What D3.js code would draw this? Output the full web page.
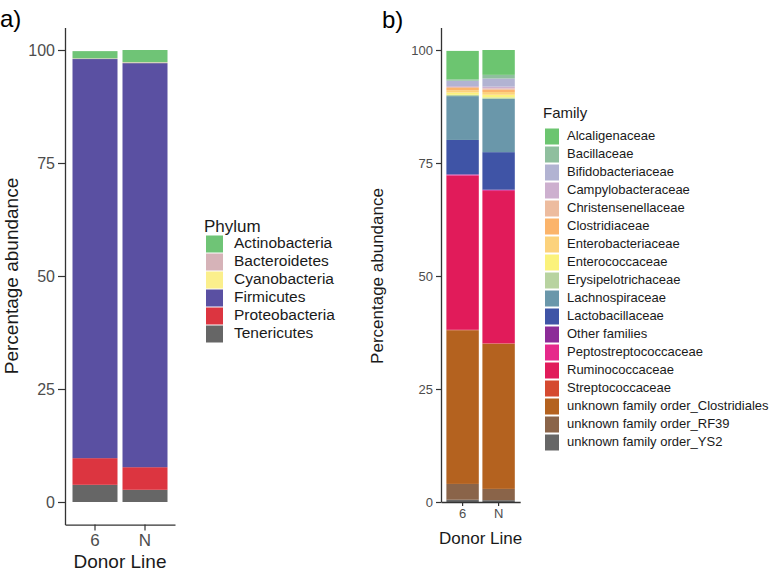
<!DOCTYPE html>
<html><head><meta charset="utf-8">
<script src="https://cdn.jsdelivr.net/npm/d3@7"></script>
<style>body{margin:0;background:#fff} svg{font-family:"Liberation Sans",Arial,Helvetica,sans-serif}</style>
</head><body><svg id="c" width="771" height="574"></svg>
<script>
// ---------- data ----------
const donors = ["6", "N"];
const yTicks = [0, 25, 50, 75, 100];

const phyla = ["Actinobacteria","Bacteroidetes","Cyanobacteria","Firmicutes","Proteobacteria","Tenericutes"];
const phylumColors = ["#6fc476","#d6b3b8","#fbef8c","#5a50a2","#dc3540","#666666"];
const phylum6 = [1.6, 0.1, 0.05, 88.3, 5.9, 3.8];
const phylumN = [2.7, 0.1, 0.1, 89.4, 5.0, 2.7];

const families = ["Alcaligenaceae","Bacillaceae","Bifidobacteriaceae","Campylobacteraceae","Christensenellaceae",
  "Clostridiaceae","Enterobacteriaceae","Enterococcaceae","Erysipelotrichaceae","Lachnospiraceae",
  "Lactobacillaceae","Other families","Peptostreptococcaceae","Ruminococcaceae","Streptococcaceae",
  "unknown family order_Clostridiales","unknown family order_RF39","unknown family order_YS2"];
const familyColors = ["#6cc570","#8fbf9e","#b2b3d2","#cdb0cf","#edbc9f","#fbb46b","#fcd27c","#fbf27b",
  "#b8d3a0","#6a97aa","#3f54a6","#8c2c98","#e6298b","#e11b5a","#d54a30","#b4621f","#8a6449","#666666"];
const family6 = [6.3, 0.3, 1.2, 0.2, 0.2, 0.5, 0.5, 0.5, 0.3, 9.7, 7.6, 0.1, 0.2, 34.1, 0.1, 34.0, 3.5, 0.5];
const familyN = [5.5, 0.8, 1.8, 0.4, 0.3, 0.5, 0.6, 0.6, 0.3, 11.8, 8.3, 0.1, 0.2, 33.7, 0.1, 32.1, 2.5, 0.4];

// ---------- drawing ----------
const svg = d3.select("#c");

function rows(keys, vals6, valsN) {
  return donors.map((d, j) => {
    const o = {donor: d};
    keys.forEach((k, i) => o[k] = (j === 0 ? vals6 : valsN)[i]);
    return o;
  });
}

function panel(cfg) {
  const g = svg.append("g");
  const x = d3.scaleBand().domain(donors).range([cfg.x0, cfg.x1]).paddingInner(0.1).paddingOuter(0.15);
  const y = d3.scaleLinear().domain(cfg.yDomain).range([cfg.yBottom, cfg.yTop]);
  const color = d3.scaleOrdinal().domain(cfg.keys).range(cfg.colors);
  const data = rows(cfg.keys, cfg.v6, cfg.vN);
  const stack = d3.stack().keys(cfg.keys.slice().reverse());
  const series = stack(data);

  g.selectAll("g.s").data(series).join("g").attr("class", "s")
    .attr("fill", s => color(s.key))
    .selectAll("rect").data(s => s).join("rect")
    .attr("x", d => x(d.data.donor))
    .attr("width", x.bandwidth())
    .attr("y", d => y(d[1]))
    .attr("height", d => Math.max(0, y(d[0]) - y(d[1])));

  // y axis
  const ya = g.append("g").attr("transform", `translate(${cfg.x0},0)`)
    .call(d3.axisLeft(y).tickValues(yTicks).tickSize(cfg.tickLen).tickSizeOuter(0).tickPadding(cfg.tickPad));
  ya.select(".domain").attr("stroke", "#333").attr("stroke-width", 1.3);
  ya.selectAll(".tick line").attr("stroke", "#333").attr("stroke-width", 1.2);
  ya.selectAll(".tick text").attr("fill", "#4d4d4d").style("font-size", cfg.tickFont + "px")
    .style("font-family", "Liberation Sans, Arial, sans-serif");

  // x axis
  const xa = g.append("g").attr("transform", `translate(0,${cfg.yBottom})`)
    .call(d3.axisBottom(x).tickSize(cfg.tickLen - 1).tickSizeOuter(0).tickPadding(cfg.tickPad));
  xa.select(".domain").attr("stroke", "#333").attr("stroke-width", 1.3);
  xa.selectAll(".tick line").attr("stroke", "#333").attr("stroke-width", 1.2);
  xa.selectAll(".tick text").attr("fill", "#4d4d4d").style("font-size", cfg.xTickFont + "px")
    .style("font-family", "Liberation Sans, Arial, sans-serif");

  // titles
  g.append("text").attr("x", (cfg.x0 + cfg.x1) / 2).attr("y", cfg.xTitleY)
    .attr("text-anchor", "middle").attr("dominant-baseline", "middle")
    .style("font-size", cfg.titleFont + "px").attr("fill", "#1a1a1a").text("Donor Line");
  g.append("text").attr("transform", `translate(${cfg.yTitleX},${y(50)}) rotate(-90)`)
    .attr("text-anchor", "middle").attr("dominant-baseline", "middle")
    .style("font-size", cfg.titleFont + "px").attr("fill", "#1a1a1a").text("Percentage abundance");

  // legend
  const lg = g.append("g");
  lg.append("text").attr("x", cfg.legX - 2).attr("y", cfg.legTitleY).attr("dominant-baseline", "middle")
    .style("font-size", cfg.legTitleFont + "px").attr("fill", "#1a1a1a").text(cfg.legTitle);
  const items = lg.selectAll("g.it").data(cfg.keys).join("g").attr("class", "it")
    .attr("transform", (d, i) => `translate(${cfg.legX},${cfg.legY0 + i * cfg.legStep})`);
  items.append("rect").attr("x", 0).attr("y", -cfg.keyH / 2).attr("width", cfg.keyW).attr("height", cfg.keyH)
    .attr("fill", d => color(d));
  items.append("text").attr("x", cfg.textX).attr("y", 0).attr("dominant-baseline", "middle")
    .style("font-size", cfg.legFont + "px").attr("fill", "#1a1a1a").text(d => d);
}

panel({
  x0: 65, x1: 175, yDomain: [-5, 105], yBottom: 524.6, yTop: 27.4,
  keys: phyla, colors: phylumColors, v6: phylum6, vN: phylumN,
  tickLen: 7, tickPad: 3, tickFont: 16, xTickFont: 17, titleFont: 19,
  xTitleY: 563, yTitleX: 13,
  legTitle: "Phylum", legX: 206, legTitleY: 228, legTitleFont: 17,
  legY0: 244, legStep: 18, keyW: 17, keyH: 17, textX: 28, legFont: 15.5
});

panel({
  x0: 441, x1: 520.2, yDomain: [0, 105], yBottom: 502, yTop: 27.4,
  keys: families, colors: familyColors, v6: family6, vN: familyN,
  tickLen: 5, tickPad: 3, tickFont: 13, xTickFont: 13, titleFont: 17,
  xTitleY: 540, yTitleX: 379,
  legTitle: "Family", legX: 545, legTitleY: 114, legTitleFont: 15,
  legY0: 136.5, legStep: 18, keyW: 14, keyH: 16, textX: 22, legFont: 13
});

svg.append("text").attr("x", 0).attr("y", 27).style("font-size", "24px").attr("fill", "#000").text("a)");
svg.append("text").attr("x", 382).attr("y", 28).style("font-size", "24px").attr("fill", "#000").text("b)");
</script></body></html>
